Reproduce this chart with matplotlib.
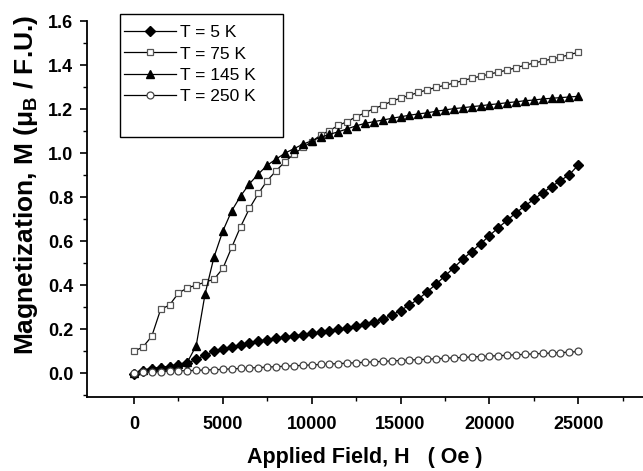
import matplotlib
matplotlib.use("Agg")
import matplotlib.pyplot as plt
from matplotlib.patches import Rectangle
from matplotlib.ticker import MultipleLocator, FormatStrFormatter
import numpy as np

plt.rcParams['font.family'] = ['Liberation Sans', 'DejaVu Sans']
plt.rcParams['mathtext.default'] = 'regular'

# applied field (Oe), 500 Oe steps
field = np.arange(0, 25001, 500)

m_5K = [-0.005, 0.012, 0.020, 0.025, 0.030, 0.036, 0.045, 0.064, 0.082, 0.100,
        0.112, 0.121, 0.130, 0.139, 0.146, 0.153, 0.159, 0.165, 0.170, 0.176,
        0.181, 0.187, 0.193, 0.199, 0.206, 0.214, 0.223, 0.235, 0.246, 0.264,
        0.285, 0.310, 0.337, 0.370, 0.405, 0.442, 0.480, 0.518, 0.553, 0.588,
        0.625, 0.661, 0.695, 0.729, 0.760, 0.790, 0.820, 0.848, 0.875, 0.902,
        0.946]

m_75K = [0.100, 0.119, 0.168, 0.290, 0.310, 0.364, 0.388, 0.400, 0.414, 0.427,
         0.476, 0.572, 0.666, 0.749, 0.817, 0.875, 0.920, 0.961, 0.995, 1.026,
         1.052, 1.082, 1.102, 1.126, 1.143, 1.165, 1.183, 1.202, 1.217, 1.235,
         1.250, 1.262, 1.276, 1.287, 1.299, 1.308, 1.318, 1.329, 1.340, 1.349,
         1.359, 1.368, 1.377, 1.388, 1.399, 1.409, 1.418, 1.427, 1.436, 1.447,
         1.458]

m_145K = [0.000, 0.015, 0.022, 0.027, 0.032, 0.040, 0.050, 0.125, 0.360, 0.527,
          0.646, 0.738, 0.805, 0.861, 0.905, 0.945, 0.973, 1.000, 1.020, 1.040,
          1.056, 1.072, 1.085, 1.097, 1.110, 1.124, 1.135, 1.143, 1.150, 1.158,
          1.165, 1.172, 1.178, 1.183, 1.190, 1.196, 1.202, 1.206, 1.211, 1.215,
          1.220, 1.224, 1.229, 1.233, 1.238, 1.241, 1.246, 1.249, 1.252, 1.255,
          1.258]

m_250K = [0.003, 0.005, 0.007, 0.008, 0.009, 0.011, 0.012, 0.013, 0.015, 0.016,
          0.018, 0.020, 0.022, 0.024, 0.026, 0.028, 0.030, 0.032, 0.034, 0.036,
          0.038, 0.040, 0.042, 0.044, 0.046, 0.048, 0.050, 0.052, 0.054, 0.056,
          0.058, 0.060, 0.062, 0.064, 0.066, 0.068, 0.070, 0.072, 0.074, 0.076,
          0.078, 0.080, 0.082, 0.084, 0.086, 0.088, 0.090, 0.092, 0.094, 0.096,
          0.099]

labels = ['T = 5 K', 'T = 75 K', 'T = 145 K', 'T = 250 K']

fig = plt.figure(figsize=(6.43, 4.71), dpi=100)
ax = fig.add_axes([0.1348, 0.1565, 0.8652, 0.7989])

ax.plot(field, m_5K, '-', color='black', lw=0.9, marker='D', ms=5.3,
        mfc='black', mec='black', label=labels[0])
ax.plot(field, m_75K, '-', color='black', lw=0.9, marker='s', ms=5,
        mfc='white', mec='#555555', mew=0.9, label=labels[1])
ax.plot(field, m_145K, '-', color='black', lw=0.9, marker='^', ms=6,
        mfc='black', mec='black', label=labels[2])
ax.plot(field, m_250K, '-', color='black', lw=0.9, marker='o', ms=5,
        mfc='white', mec='#444444', mew=0.9, label=labels[3])

ax.set_xlim(-2662, 28644)
ax.set_ylim(-0.109, 1.6)

for s in ['top', 'right']:
    ax.spines[s].set_visible(False)
for s in ['left', 'bottom']:
    ax.spines[s].set_linewidth(1.3)

ax.set_xticks(np.arange(0, 25001, 5000))
ax.set_xticks(np.arange(2500, 28000, 5000), minor=True)
ax.yaxis.set_major_locator(MultipleLocator(0.2))
ax.yaxis.set_minor_locator(MultipleLocator(0.1))
ax.yaxis.set_major_formatter(FormatStrFormatter('%.1f'))
ax.tick_params(which='major', direction='out', length=5, width=1.2)
ax.tick_params(which='minor', direction='out', length=3, width=1.0)
ax.tick_params(axis='x', pad=8.5)
ax.tick_params(axis='y', pad=4.5)
ax.tick_params(labelsize=13)
for t in ax.get_xticklabels() + ax.get_yticklabels():
    t.set_fontweight('bold')

ax.set_xlabel('Applied Field, H   ( Oe )', fontsize=15.5, fontweight='bold', labelpad=10)
ax.set_ylabel(r'Magnetization, M ($\mu_B$ / F.U.)', fontsize=19, fontweight='bold')
ax.yaxis.set_label_coords(-0.084, 0.564)

# legend box in the Origin style, with blank space at the bottom
fig.patches.append(Rectangle((120 / 643, 1 - 137 / 471), 163 / 643, 123 / 471,
                             transform=fig.transFigure, fill=False,
                             edgecolor='black', lw=1.0))
handles, _ = ax.get_legend_handles_labels()
fig.legend(handles, labels, loc='upper left', bbox_to_anchor=(124 / 643, 1 - 25 / 471),
           frameon=False, fontsize=12.5, handlelength=3.0, handletextpad=0.2,
           labelspacing=0.36, borderpad=0, borderaxespad=0)

plt.savefig('out.png', dpi=100)
